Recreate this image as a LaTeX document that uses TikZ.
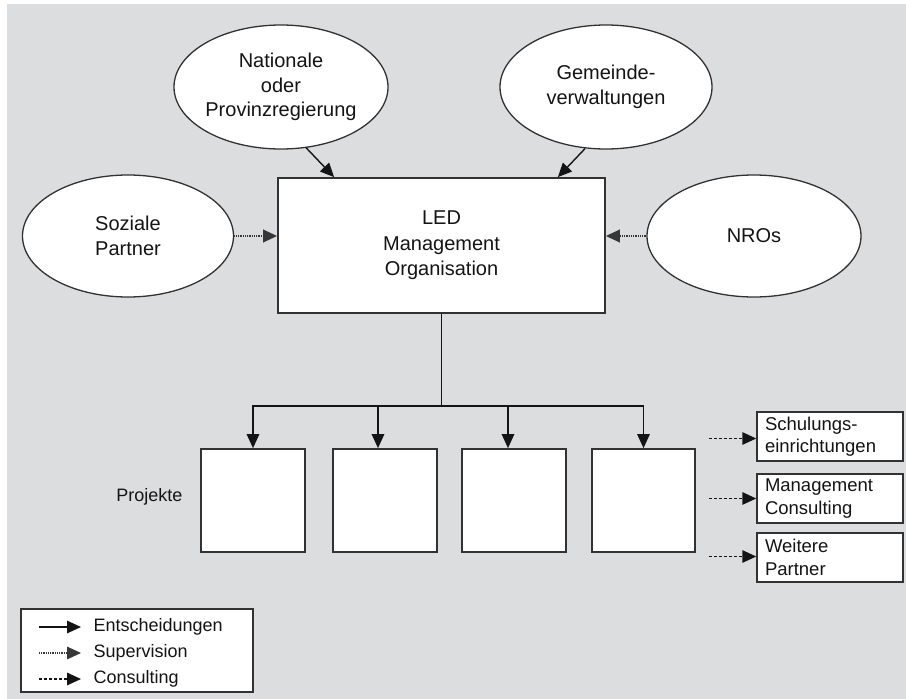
\documentclass[tikz,border=0pt]{standalone}
\usepackage{fontspec}
\setmainfont{Liberation Sans}
\usetikzlibrary{shapes.geometric,arrows.meta,calc}
\definecolor{bgc}{RGB}{220,221,223}
\definecolor{edge}{RGB}{50,50,50}
\definecolor{ink}{RGB}{20,20,20}
\begin{document}
\begin{tikzpicture}[x=1pt,y=-1pt,
  every node/.style={font=\fontsize{18}{24.5}\selectfont, text=ink},
  oval/.style={ellipse, draw=edge, line width=1.3pt, fill=white, inner sep=0pt, align=center, font=\fontsize{20}{24.5}\selectfont},
  whitebox/.style={rectangle, draw=edge, line width=1.7pt, fill=white, inner sep=0pt},
  sidebox/.style={rectangle, draw=edge, line width=1.5pt, fill=white, minimum width=146pt, minimum height=49pt, text width=130pt, inner xsep=8pt, inner ysep=0pt, align=left, font=\fontsize{18.5}{22.5}\selectfont},
  tip/.style={-{Triangle[length=14pt,width=12.5pt]}},
  decide/.style={tip, draw=ink, line width=1.4pt},
  superv/.style={tip, draw=ink!85, line width=2.2pt, dash pattern=on 1pt off 0.8pt},
  consult/.style={tip, draw=ink, line width=1.5pt, dash pattern=on 3pt off 2pt}]
\useasboundingbox (0,0) rectangle (906,699);
\fill[bgc] (7,4) rectangle (906,699);

% ellipses
\node[oval, minimum width=214pt, minimum height=124pt] (nat) at (281,87) {Nationale\\oder\\Provinzregierung};
\node[oval, minimum width=212pt, minimum height=124pt] (gem) at (606,87) {Gemeinde-\\verwaltungen};
\node[oval, minimum width=211pt, minimum height=122pt] (soz) at (128,236) {Soziale\\Partner};
\node[oval, minimum width=214pt, minimum height=122pt] (nro) at (754,236) {NROs};

% central box
\node[whitebox, minimum width=327pt, minimum height=135pt, align=center, font=\fontsize{20}{25.5}\selectfont] (led) at (441.5,245.5) {LED\\Management\\Organisation};

% arrows into the central box
\draw[decide] ($(nat.south)+(25,-2)$) -- ($(led.north west)+(57,0)$);
\draw[decide] ($(gem.south)+(-21,-1)$) -- ($(led.north east)+(-48,0)$);
\draw[superv] (soz.east) -- (soz.east -| led.west);
\draw[superv] (nro.west) -- (nro.west -| led.east);

% project boxes
\node[whitebox, minimum width=104pt, minimum height=103pt] (p1) at (253,500.5) {};
\node[whitebox, minimum width=104pt, minimum height=103pt] (p2) at (385,500.5) {};
\node[whitebox, minimum width=104pt, minimum height=103pt] (p3) at (514,500.5) {};
\node[whitebox, minimum width=103pt, minimum height=103pt] (p4) at (643.5,500.5) {};
\node[anchor=east] (proj) at (186,497) {Projekte};

\coordinate (hub) at (led.south |- 0,406);
\coordinate (a2) at ($(p2.north)+(-7,0)$);
\coordinate (a3) at ($(p3.north)+(-6,0)$);
\draw[draw=ink, line width=1.3pt] (led.south) -- (hub);
\draw[decide] (hub) -| (p1.north);
\draw[decide] (hub) -| (p4.north);
\draw[decide] (a2 |- hub) -- (a2);
\draw[decide] (a3 |- hub) -- (a3);

% partner boxes
\node[sidebox] (sch) at (830,436.5) {Schulungs-\\einrichtungen};
\node[sidebox] (mgc) at (830,498.5) {Management\\Consulting};
\node[sidebox] (wei) at (830,557.5) {Weitere\\Partner};
\coordinate (c1) at ($(sch.west)+(-47,2)$);
\coordinate (c2) at ($(mgc.west)+(-47,0)$);
\coordinate (c3) at ($(wei.west)+(-47,-1)$);
\draw[consult] (c1) -- (c1 -| sch.west);
\draw[consult] (c2) -- (c2 -| mgc.west);
\draw[consult] (c3) -- (c3 -| wei.west);

% legend
\node[rectangle, draw=edge, line width=1.5pt, fill=white, minimum width=232pt, minimum height=83pt, inner sep=0pt] (leg) at (137,650.5) {};
\coordinate (l1) at (39,627);
\coordinate (l2) at (39,653);
\coordinate (l3) at (39,679);
\coordinate (e1) at (81,627);
\coordinate (e2) at (81,653);
\coordinate (e3) at (81,679);
\node[anchor=west] (t1) at (90,627) {Entscheidungen};
\node[anchor=west] (t2) at (90,653) {Supervision};
\node[anchor=west] (t3) at (90,679) {Consulting};
\draw[decide] (l1) -- (e1);
\draw[superv, line width=1.6pt] (l2) -- (e2);
\draw[consult] (l3) -- (e3);
\end{tikzpicture}
\end{document}
